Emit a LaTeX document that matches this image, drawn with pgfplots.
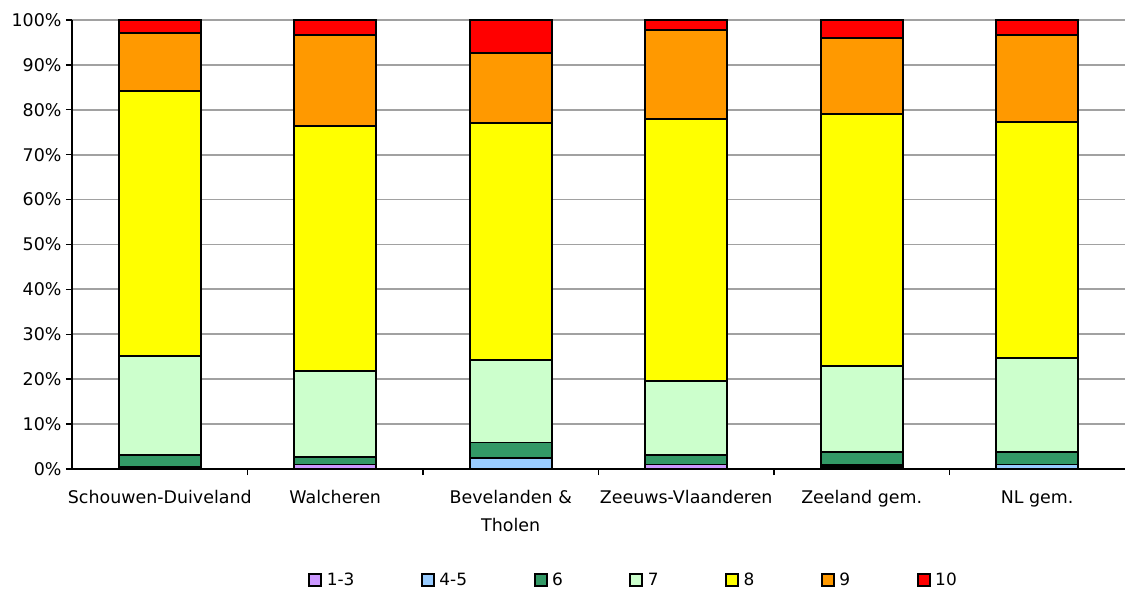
\documentclass[border=0pt]{standalone}
\usepackage{pgfplots}
\pgfplotsset{compat=1.18}
\usepackage{fontspec}
\setmainfont{DejaVu Sans}
\definecolor{cA}{HTML}{CC99FF}
\definecolor{cB}{HTML}{99CCFF}
\definecolor{cC}{HTML}{339966}
\definecolor{cD}{HTML}{CCFFCC}
\definecolor{cE}{HTML}{FFFF00}
\definecolor{cF}{HTML}{FF9900}
\definecolor{cG}{HTML}{FF0000}
\begin{document}
\begin{tikzpicture}
\useasboundingbox (-72bp,-123bp) rectangle (1053bp,469bp);
\begin{axis}[
  at={(0,0)}, anchor=south west,
  scale only axis, width=1053bp, height=449bp,
  ybar stacked, bar width=82bp,
  xmin=-0.5, xmax=5.5, ymin=0, ymax=100,
  axis x line*=bottom, axis y line*=left,
  axis line style={line width=1.8bp, black, -},
  xtick={0,1,2,3,4,5},
  xticklabels={Schouwen-Duiveland, Walcheren, {Bevelanden \&\\Tholen}, Zeeuws-Vlaanderen, Zeeland gem., NL gem.},
  xticklabel style={align=center, yshift=-12bp},
  major x tick style={draw=none},
  minor xtick={0.5,1.5,2.5,3.5,4.5},
  minor x tick style={line width=1.4bp, black},
  minor tick length=6bp,
  xtick pos=bottom, ytick pos=left,
  tick align=outside,
  ytick={0,10,...,100},
  yticklabel={\pgfmathprintnumber{\tick}\%},
  major tick length=6bp,
  y tick style={line width=1.4bp, black},
  ymajorgrids, major grid style={line width=1.8bp, color=black!37},
  /pgf/number format/assume math mode=true,
  tick label style={font=\fontsize{17.5}{28}\selectfont},
  yticklabel style={xshift=-1bp},
  every axis plot/.append style={draw=black, line width=1.9bp},
  legend columns=7,
  legend style={draw=none, at={(0.5345,-0.247)}, anchor=center, font=\fontsize{17}{19}\selectfont,
    /tikz/every even column/.append style={column sep=62bp},
    nodes={inner xsep=4.5bp}},
  legend image code/.code={\draw[#1, line width=2bp] (0bp,-6bp) rectangle (12bp,6bp);},
  clip=false,
]
\addplot[fill=cA] coordinates {(0,0.0) (1,1.0) (2,0.0) (3,1.0) (4,0.4) (5,0.0)};
\addplot[fill=cB] coordinates {(0,0.4) (1,0.0) (2,2.5) (3,0.0) (4,0.5) (5,1.0)};
\addplot[fill=cC] coordinates {(0,2.7) (1,1.7) (2,3.4) (3,2.1) (4,2.8) (5,2.7)};
\addplot[fill=cD] coordinates {(0,22.1) (1,19.1) (2,18.4) (3,16.5) (4,19.2) (5,21.0)};
\addplot[fill=cE] coordinates {(0,59.0) (1,54.6) (2,52.8) (3,58.4) (4,56.2) (5,52.6)};
\addplot[fill=cF] coordinates {(0,12.9) (1,20.3) (2,15.6) (3,19.8) (4,16.9) (5,19.4)};
\addplot[fill=cG] coordinates {(0,2.9) (1,3.3) (2,7.3) (3,2.2) (4,4.0) (5,3.3)};
\legend{1-3,4-5,6,7,8,9,10}
\end{axis}
\end{tikzpicture}
\end{document}
